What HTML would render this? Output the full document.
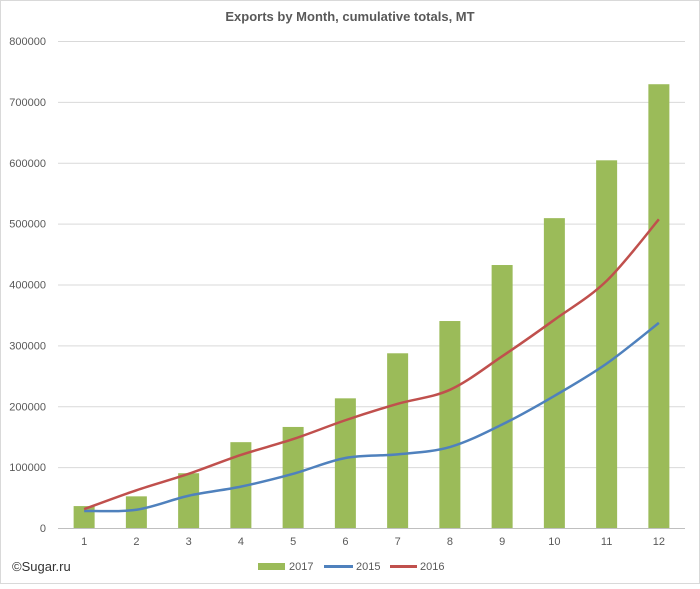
<!DOCTYPE html>
<html><head><meta charset="utf-8"><style>
body{margin:0;background:#fff;font-family:"Liberation Sans",sans-serif}
svg text{font-family:"Liberation Sans",sans-serif}
</style></head><body>
<svg width="700" height="584">
<rect x="0.5" y="0.5" width="699" height="583" fill="#fff" stroke="#d9d9d9"/>
<text x="350" y="21" text-anchor="middle" font-size="13" font-weight="bold" fill="#595959">Exports by Month, cumulative totals, MT</text>
<g id="grid"></g><g id="bars"></g><g id="lines"></g><g id="labels"></g>
<text x="12" y="571" font-size="13" fill="#333">©Sugar.ru</text>
<g>
<rect x="258" y="563" width="27" height="7" fill="#9bbb59"/>
<text x="289" y="570" font-size="11" fill="#595959">2017</text>
<line x1="324" y1="566.5" x2="353" y2="566.5" stroke="#4f81bd" stroke-width="3"/>
<text x="356" y="570" font-size="11" fill="#595959">2015</text>
<line x1="390" y1="566.5" x2="417" y2="566.5" stroke="#c0504d" stroke-width="3"/>
<text x="420" y="570" font-size="11" fill="#595959">2016</text>
</g>
</svg>
<script>
const categories=[1,2,3,4,5,6,7,8,9,10,11,12];
const values2017=[36000,52000,90000,141000,166000,213000,287000,340000,432000,509000,604000,729000];
const values2015=[28000,30000,53000,68000,89000,115000,121000,133000,170000,217000,270000,337000];
const values2016=[31000,62000,89000,120000,146000,177000,204000,227000,282000,342000,406000,507000];
const yTicks=[0,100000,200000,300000,400000,500000,600000,700000,800000];
const NS="http://www.w3.org/2000/svg";
const x0=58,x1=685,y0=528,y1=41,yMax=800000;
const step=(x1-x0)/categories.length;
const X=i=>x0+step*(i+0.5);
const Y=v=>y0-(v/yMax)*(y0-y1);
function mk(t,a,p){const e=document.createElementNS(NS,t);for(const k in a)e.setAttribute(k,a[k]);document.getElementById(p).appendChild(e);return e;}
yTicks.forEach(v=>{
 const l=mk('line',{x1:x0,x2:x1,y1:Y(v)+0.5,y2:Y(v)+0.5,stroke:v===0?'#bfbfbf':'#d9d9d9'},'grid');
 
 
 const t=mk('text',{x:46,y:Y(v)+4,'text-anchor':'end','font-size':'11',fill:'#595959'},'labels');
 t.textContent=v;
 
 
});
categories.forEach((c,i)=>{
 const t=mk('text',{x:X(i),y:545,'text-anchor':'middle','font-size':'11',fill:'#595959'},'labels');
 t.textContent=c;
 
 
 const b=mk('rect',{x:X(i)-10.5,y:Y(values2017[i]),width:21,height:y0-Y(values2017[i]),fill:'#9bbb59'},'bars');
 
 
});
function smooth(vals){
 const p=vals.map((v,i)=>[X(i),Y(v)]);let d='M'+p[0][0]+','+p[0][1];
 for(let i=0;i<p.length-1;i++){const a=p[i-1]||p[i],b=p[i],c=p[i+1],e=p[i+2]||c;
  d+=' C'+(b[0]+(c[0]-a[0])/6)+','+(b[1]+(c[1]-a[1])/6)+' '+(c[0]-(e[0]-b[0])/6)+','+(c[1]-(e[1]-b[1])/6)+' '+c[0]+','+c[1];}
 return d;}
const l15=mk('path',{d:smooth(values2015),fill:'none',stroke:'#4f81bd','stroke-width':2.5},'lines');


const l16=mk('path',{d:smooth(values2016),fill:'none',stroke:'#c0504d','stroke-width':2.5},'lines');


</script>
</body></html>
